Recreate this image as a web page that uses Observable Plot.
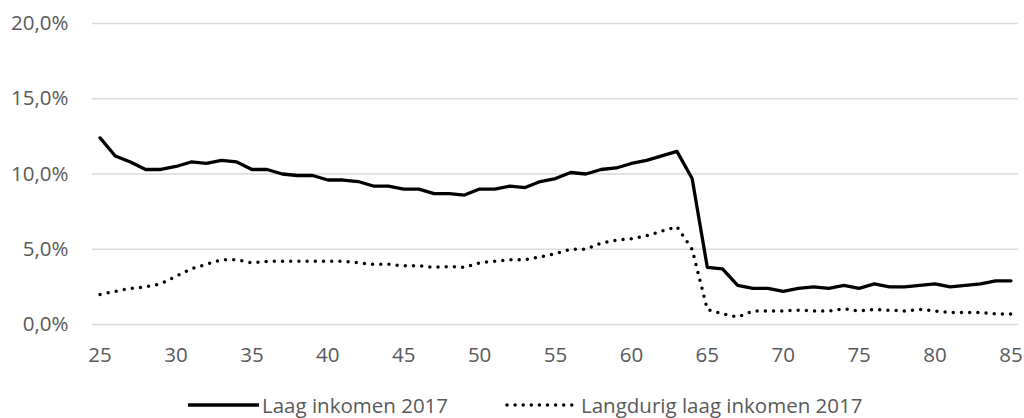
<!DOCTYPE html>
<html>
<head>
<meta charset="utf-8">
<script src="https://cdn.jsdelivr.net/npm/d3@7"></script>
<script src="https://cdn.jsdelivr.net/npm/@observablehq/plot@0.6"></script>
<style>
  html, body { margin: 0; padding: 0; background: #fff; }
  #wrap { width: 1024px; height: 418px; position: relative; font-family: "Open Sans", sans-serif; }
  #legend { position: relative; width: 1024px; height: 48px; }
  .lg-text { position: absolute; font-size: 20.5px; color: #595959; line-height: 1; white-space: nowrap; }
  .lg-sw { position: absolute; }
</style>
</head>
<body>
<div id="wrap">
  <div id="chart"></div>
  <div id="legend"></div>
</div>
<script>
// Age categories
const ages = [25,26,27,28,29,30,31,32,33,34,35,36,37,38,39,40,41,42,43,44,45,46,47,48,49,50,51,52,53,54,55,56,57,58,59,60,61,62,63,64,65,66,67,68,69,70,71,72,73,74,75,76,77,78,79,80,81,82,83,84,85];
// Laag inkomen 2017 (%)
const laagInkomen = [12.4,11.2,10.8,10.3,10.3,10.5,10.8,10.7,10.9,10.8,10.3,10.3,10.0,9.9,9.9,9.6,9.6,9.5,9.2,9.2,9.0,9.0,8.7,8.7,8.6,9.0,9.0,9.2,9.1,9.5,9.7,10.1,10.0,10.3,10.4,10.7,10.9,11.2,11.5,9.7,3.8,3.7,2.6,2.4,2.4,2.2,2.4,2.5,2.4,2.6,2.4,2.7,2.5,2.5,2.6,2.7,2.5,2.6,2.7,2.9,2.9];
// Langdurig laag inkomen 2017 (%)
const langdurigLaag = [2.0,2.2,2.4,2.5,2.7,3.2,3.7,4.0,4.3,4.3,4.1,4.2,4.2,4.2,4.2,4.2,4.2,4.1,4.0,4.0,3.9,3.9,3.8,3.85,3.8,4.1,4.2,4.3,4.3,4.5,4.7,5.0,5.0,5.4,5.6,5.7,5.9,6.2,6.5,5.0,1.0,0.7,0.5,0.9,0.9,0.9,0.95,0.9,0.9,1.05,0.9,1.0,0.95,0.9,1.0,0.9,0.8,0.8,0.8,0.7,0.7];
const xTicks = [25,30,35,40,45,50,55,60,65,70,75,80,85];
const yTicks = [0,5,10,15,20];
const seriesNames = ["Laag inkomen 2017", "Langdurig laag inkomen 2017"];

const laagData = ages.map((a, i) => ({age: a, value: laagInkomen[i]}));
const langData = ages.map((a, i) => ({age: a, value: langdurigLaag[i]}));

const fmt = d => d.toFixed(1).replace(".", ",") + "%";

const chart = Plot.plot({
  width: 1024,
  height: 370,
  marginLeft: 92,
  marginRight: 6,
  marginTop: 23,
  marginBottom: 46,
  style: {fontFamily: "'Open Sans', sans-serif", fontSize: "20.5px", color: "#595959", background: "#fff"},
  x: {domain: [24.5, 85.5]},
  y: {domain: [0, 20]},
  marks: [
    Plot.ruleY(yTicks, {stroke: "#d9d9d9", strokeWidth: 1.5}),
    Plot.axisY({ticks: yTicks, tickFormat: fmt, tickSize: 0, tickPadding: 24, label: null}),
    Plot.axisX({ticks: xTicks, tickFormat: d => String(d), tickSize: 0, tickPadding: 23, label: null}),
    Plot.line(langData, {x: "age", y: "value", stroke: "#000", strokeWidth: 3.5, strokeDasharray: "0 8.2", strokeLinecap: "round", strokeLinejoin: "round"}),
    Plot.line(laagData, {x: "age", y: "value", stroke: "#000", strokeWidth: 3.3, strokeLinejoin: "round"})
  ]
});
document.getElementById("chart").appendChild(chart);

// Legend
const legend = document.getElementById("legend");
function addItem(x1, x2, textX, dashed, label) {
  const ns = "http://www.w3.org/2000/svg";
  const svg = document.createElementNS(ns, "svg");
  svg.setAttribute("class", "lg-sw");
  svg.setAttribute("width", x2 - x1 + 6);
  svg.setAttribute("height", 12);
  svg.style.left = (x1 - 3) + "px";
  svg.style.top = (35 - 6) + "px";
  const ln = document.createElementNS(ns, "line");
  ln.setAttribute("x1", 3); ln.setAttribute("x2", x2 - x1 + 3);
  ln.setAttribute("y1", 6); ln.setAttribute("y2", 6);
  ln.setAttribute("stroke", "#000");
  if (dashed) {
    ln.setAttribute("stroke-width", 3.5);
    ln.setAttribute("stroke-dasharray", "0 8.1");
    ln.setAttribute("stroke-linecap", "round");
  } else {
    ln.setAttribute("stroke-width", 3.5);
  }
  svg.appendChild(ln);
  legend.appendChild(svg);
  const t = document.createElement("div");
  t.className = "lg-text";
  t.textContent = label;
  t.style.left = textX + "px";
  t.style.top = "25px";
  legend.appendChild(t);
}
addItem(188, 259, 262, false, seriesNames[0]);
addItem(507, 572, 581, true, seriesNames[1]);
</script>
</body>
</html>
